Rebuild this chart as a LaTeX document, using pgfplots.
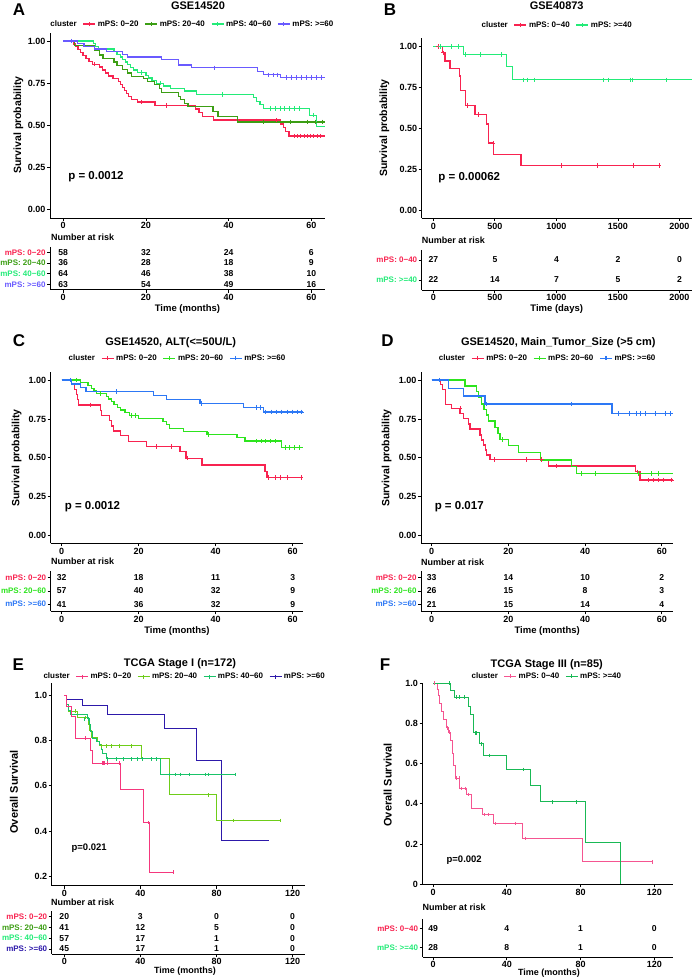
\documentclass[border=0pt]{standalone}
\usepackage{fontspec}
\setmainfont{Liberation Sans}
\usepackage{pgfplots}
\pgfplotsset{compat=1.18}

\definecolor{aR}{RGB}{248,35,80}
\definecolor{aG}{RGB}{60,158,20}
\definecolor{aC}{RGB}{35,235,120}
\definecolor{aB}{RGB}{105,90,255}
\definecolor{cG}{RGB}{45,228,30}
\definecolor{cB}{RGB}{45,120,245}
\definecolor{eP}{RGB}{245,55,125}
\definecolor{eL}{RGB}{110,205,25}
\definecolor{eT}{RGB}{25,195,105}
\definecolor{eN}{RGB}{45,25,170}
\definecolor{fP}{RGB}{245,85,145}
\definecolor{fG}{RGB}{25,185,85}

\newcommand{\fs}[1]{\bfseries\fontsize{#1}{#1}\selectfont}

\pgfplotsset{
  kmax/.style={scale only axis, clip=false,
    axis x line*=bottom, axis y line*=left,
    axis line style={-, line width=0.8pt, black},
    tick align=outside, major tick length=3pt,
    tick style={black, line width=0.8pt},
    tick label style={font=\fs{9}},
    xticklabel shift=-2pt, yticklabel shift=-2pt,
    /pgf/number format/assume math mode=true,
    legend style={draw=none, fill=none, font=\fs{8}, legend columns=-1,
      inner sep=0pt, anchor=center,
      /tikz/every even column/.append style={column sep=4pt}},
    legend image code/.code={\draw[mark repeat=2,mark phase=2,##1]
      plot coordinates {(0pt,0pt) (6pt,0pt) (12pt,0pt)};}},
  risk/.style={kmax, y dir=reverse, ymin=0.5, yticklabel style={font=\fs{8}}},
  km/.style={const plot, line width=1.3pt, forget plot},
  cen/.style={only marks, mark=+, mark size=2.2pt, line width=0.8pt, forget plot},
  nums/.style={draw=none, mark=none,
    nodes near coords, point meta=explicit symbolic, nodes near coords align={center},
    every node near coord/.append style={font=\fs{8.6}, black}, forget plot},
}

\begin{document}
\begin{tikzpicture}
\path[use as bounding box] (0,0) rectangle (693pt,980pt);

%% ---------------- A ----------------
\begin{axis}[kmax, at={(50pt,762pt)}, anchor=south west, width=275pt, height=185.4pt,
  xmin=-3.2, xmax=63.3, ymin=-0.05, ymax=1.05,
  xtick={0,20,40,60}, xticklabels={0,20,40,60},
  ytick={0,0.25,0.5,0.75,1}, yticklabels={0.00,0.25,0.50,0.75,1.00},
  legend style={at={(0.516,1.046)}}]
\addlegendimage{empty legend}\addlegendentry{cluster}
\addlegendimage{aR, mark=+, line width=1.2pt}\addlegendentry{mPS: 0−20}
\addlegendimage{aG, mark=+, line width=1.2pt}\addlegendentry{mPS: 20−40}
\addlegendimage{aC, mark=+, line width=1.2pt}\addlegendentry{mPS: 40−60}
\addlegendimage{aB, mark=+, line width=1.2pt}\addlegendentry{mPS: >=60}
\addplot[km, aR] coordinates {(0,1.0)(2.4,0.983)(3,0.966)(3.6,0.948)(4.2,0.931)(4.8,0.914)(5.5,0.897)(6.2,0.879)(7,0.862)(8.8,0.845)(9.5,0.828)(10.2,0.810)(10.9,0.793)(12,0.776)(13.3,0.759)(13.8,0.741)(14.3,0.724)(14.8,0.707)(15.3,0.690)(15.8,0.672)(16.5,0.655)(18,0.638)(22.2,0.617)(32,0.596)(32.8,0.575)(33.6,0.554)(36.3,0.531)(52.6,0.508)(53.2,0.486)(53.8,0.463)(54.6,0.436)(63.3,0.436)};
\addplot[cen, aR] coordinates {(7.6,0.862)(19,0.638)(25,0.617)(51.5,0.531)(55.8,0.436)(56.6,0.436)(57.4,0.436)(58.2,0.436)(59,0.436)(59.8,0.436)(60.6,0.436)(61.4,0.436)(62.2,0.436)};
\addplot[km, aG] coordinates {(0,1)(2.8,0.972)(7.5,0.944)(8.7,0.917)(9.6,0.897)(12.3,0.875)(13,0.853)(14.3,0.831)(15.6,0.810)(16.5,0.788)(19.4,0.778)(20.3,0.759)(22,0.740)(23.2,0.720)(23.8,0.693)(27.8,0.672)(28.4,0.652)(29.3,0.631)(30.2,0.610)(36.2,0.580)(37.4,0.551)(42.2,0.520)(63.3,0.520)};
\addplot[cen, aG] coordinates {(48.4,0.52)(55,0.52)(59,0.52)(61,0.52)(62.6,0.52)};
\addplot[km, aC] coordinates {(0,1)(7.3,0.984)(7.8,0.969)(8.5,0.953)(12.3,0.938)(13,0.922)(13.8,0.906)(14.4,0.891)(15,0.875)(15.6,0.859)(16.2,0.844)(17,0.828)(18,0.813)(20,0.797)(20.6,0.781)(21.5,0.766)(22.5,0.750)(24.2,0.734)(26,0.719)(29.4,0.703)(32.2,0.683)(46,0.663)(46.8,0.643)(47.6,0.622)(48.4,0.600)(59.6,0.560)(61.2,0.492)(63.3,0.492)};
\addplot[cen, aC] coordinates {(19,0.813)(23.5,0.750)(38.5,0.683)(50,0.600)(51.2,0.6)(52.4,0.6)(53.6,0.6)(54.8,0.6)(56,0.6)(57.2,0.6)(60.5,0.56)};
\addplot[km, aB] coordinates {(0,1)(3.5,0.984)(5,0.968)(7.5,0.952)(10.5,0.937)(14.3,0.921)(15.5,0.905)(23.8,0.889)(27.8,0.857)(31,0.841)(47,0.821)(48.4,0.800)(52.6,0.784)(63.3,0.784)};
\addplot[cen, aB] coordinates {(2,1)(36.6,0.841)(49.5,0.8)(50.8,0.8)(51.8,0.8)(54,0.784)(55.2,0.784)(56.4,0.784)(57.6,0.784)(58.8,0.784)(60,0.784)(61.2,0.784)(62.4,0.784)};
\end{axis}
\begin{axis}[risk, at={(50pt,690.3pt)}, anchor=south west, width=275pt, height=42.7pt,
  xmin=-3.2, xmax=63.3, ymax=4.5,
  xtick={0,20,40,60}, xticklabels={0,20,40,60}, ytick={1,2,3,4},
  yticklabels={{\textcolor{aR}{mPS: 0−20}},{\textcolor{aG}{mPS: 20−40}},{\textcolor{aC}{mPS: 40−60}},{\textcolor{aB}{mPS: >=60}}}]
\addplot[nums] table[meta=n] {
x y n
0 1 58
20 1 32
40 1 24
60 1 6
0 2 36
20 2 28
40 2 18
60 2 9
0 3 64
20 3 46
40 3 38
60 3 10
0 4 63
20 4 54
40 4 49
60 4 16
};
\end{axis}
\node[font=\fs{17}] at (19pt,970pt) {A};
\node[font=\fs{11}] at (198pt,974pt) {GSE14520};
\node[font=\fs{10.5}, rotate=90] at (18.3pt,855pt) {Survival probability};
\node[font=\fs{11.5}] at (96pt,803.3pt) {p = 0.0012};
\node[font=\fs{9}, anchor=west, inner sep=0pt] at (51pt,742.7pt) {Number at risk};
\node[font=\fs{9.5}] at (187.5pt,671pt) {Time (months)};

%% ---------------- B ----------------
\begin{axis}[kmax, at={(421.7pt,761.8pt)}, anchor=south west, width=270pt, height=179.7pt,
  xmin=-95, xmax=2100, ymin=-0.05, ymax=1.05,
  xtick={0,500,1000,1500,2000}, xticklabels={0,500,1000,1500,2000},
  ytick={0,0.25,0.5,0.75,1}, yticklabels={0.00,0.25,0.50,0.75,1.00},
  legend style={at={(0.5,1.075)}}]
\addlegendimage{empty legend}\addlegendentry{cluster}
\addlegendimage{aR, mark=+, line width=1.2pt}\addlegendentry{mPS: 0−40}
\addlegendimage{aC, mark=+, line width=1.2pt}\addlegendentry{mPS: >=40}
\addplot[km, aR] coordinates {(0,1)(73,0.963)(95,0.912)(136,0.866)(211,0.820)(222,0.730)(263,0.641)(339,0.585)(434,0.527)(447,0.410)(488,0.342)(713,0.273)(1843,0.273)};
\addplot[cen, aR] coordinates {(41,1)(54,1)(80,0.963)(274,0.641)(366,0.585)(485,0.41)(1043,0.273)(1333,0.273)(1626,0.273)(1835,0.273)};
\addplot[km, aC] coordinates {(0,1)(244,0.953)(596,0.877)(642,0.797)(2100,0.797)};
\addplot[cen, aC] coordinates {(54,1)(144,1)(203,1)(263,0.953)(379,0.953)(556,0.953)(732,0.797)(767,0.797)(821,0.797)(1382,0.797)(1423,0.797)(1604,0.797)(1618,0.797)(1897,0.797)};
\end{axis}
\begin{axis}[risk, at={(421.7pt,690pt)}, anchor=south west, width=270pt, height=40pt,
  xmin=-95, xmax=2100, ymax=2.5,
  xtick={0,500,1000,1500,2000}, xticklabels={0,500,1000,1500,2000}, ytick={1,2},
  yticklabels={{\textcolor{aR}{mPS: 0−40}},{\textcolor{aC}{mPS: >=40}}}]
\addplot[nums] table[meta=n] {
x y n
0 1 27
500 1 5
1000 1 4
1500 1 2
2000 1 0
0 2 22
500 2 14
1000 2 7
1500 2 5
2000 2 2
};
\end{axis}
\node[font=\fs{17}] at (390pt,970pt) {B};
\node[font=\fs{11}] at (556.7pt,974pt) {GSE40873};
\node[font=\fs{10.5}, rotate=90] at (384.3pt,852pt) {Survival probability};
\node[font=\fs{11.5}] at (469.3pt,802.3pt) {p = 0.00062};
\node[font=\fs{9}, anchor=west, inner sep=0pt] at (421.7pt,740pt) {Number at risk};
\node[font=\fs{9.5}] at (556.7pt,671pt) {Time (days)};

%% ---------------- C ----------------
\begin{axis}[kmax, at={(50.7pt,436.5pt)}, anchor=south west, width=252.6pt, height=171.3pt,
  xmin=-2.86, xmax=62.75, ymin=-0.05, ymax=1.05,
  xtick={0,20,40,60}, xticklabels={0,20,40,60},
  ytick={0,0.25,0.5,0.75,1}, yticklabels={0.00,0.25,0.50,0.75,1.00},
  legend style={at={(0.5,1.081)}}]
\addlegendimage{empty legend}\addlegendentry{cluster}
\addlegendimage{aR, mark=+, line width=1.2pt}\addlegendentry{mPS: 0−20}
\addlegendimage{cG, mark=+, line width=1.2pt}\addlegendentry{mPS: 20−60}
\addlegendimage{cB, mark=+, line width=1.2pt}\addlegendentry{mPS: >=60}
\addplot[km, aR] coordinates {(0,1)(2.6,0.969)(3.4,0.938)(3.8,0.906)(4.1,0.875)(4.3,0.840)(10,0.806)(10.3,0.771)(12.5,0.740)(12.9,0.705)(13.5,0.672)(15.2,0.642)(17.3,0.605)(22,0.573)(30.7,0.540)(32.3,0.498)(36.4,0.454)(52.8,0.413)(53.3,0.373)(62.75,0.373)};
\addplot[cen, aR] coordinates {(7.4,0.84)(24.7,0.573)(28.6,0.573)(32.6,0.498)(53.7,0.373)(55.4,0.373)(56.8,0.373)(58.5,0.373)(62.2,0.373)};
\addplot[km, cG] coordinates {(0,1)(4.8,0.982)(6.8,0.965)(7.8,0.947)(8.4,0.930)(9.1,0.912)(11.7,0.895)(12.2,0.877)(12.9,0.860)(13.6,0.842)(14.5,0.825)(15.3,0.807)(16.4,0.789)(17.6,0.772)(19.9,0.754)(26.3,0.733)(27.2,0.712)(28,0.690)(31.6,0.668)(37.7,0.650)(45.5,0.630)(47.6,0.608)(57.1,0.567)(62.75,0.567)};
\addplot[cen, cG] coordinates {(3.9,1)(10,0.912)(18.2,0.772)(19.2,0.772)(38.1,0.650)(50.6,0.608)(51.8,0.608)(53,0.608)(54.2,0.608)(55.4,0.608)(58,0.567)(59.2,0.567)(60.4,0.567)(61.8,0.567)};
\addplot[km, cB] coordinates {(0,1)(2.6,0.975)(4.8,0.951)(6.3,0.926)(23.8,0.899)(27.3,0.873)(35.9,0.848)(47.2,0.823)(52.4,0.795)(62.75,0.795)};
\addplot[cen, cB] coordinates {(2.2,1)(14.3,0.926)(36.4,0.848)(50.6,0.823)(51.7,0.823)(53,0.795)(54.5,0.795)(55.8,0.795)(57,0.795)(58.5,0.795)(60,0.795)(61.2,0.795)(62.3,0.795)};
\end{axis}
\begin{axis}[risk, at={(50.7pt,368.5pt)}, anchor=south west, width=252.6pt, height=40.5pt,
  xmin=-2.86, xmax=62.75, ymax=3.55,
  xtick={0,20,40,60}, xticklabels={0,20,40,60}, ytick={1,2,3},
  yticklabels={{\textcolor{aR}{mPS: 0−20}},{\textcolor{cG}{mPS: 20−60}},{\textcolor{cB}{mPS: >=60}}}]
\addplot[nums] table[meta=n] {
x y n
0 1 32
20 1 18
40 1 11
60 1 3
0 2 57
20 2 40
40 2 32
60 2 9
0 3 41
20 3 36
40 3 32
60 3 9
};
\end{axis}
\node[font=\fs{17}] at (19pt,639pt) {C};
\node[font=\fs{11}] at (170.7pt,637.7pt) {GSE14520, ALT(<=50U/L)};
\node[font=\fs{10.5}, rotate=90] at (16.7pt,522pt) {Survival probability};
\node[font=\fs{11.5}] at (92.5pt,473.3pt) {p = 0.0012};
\node[font=\fs{9}, anchor=west, inner sep=0pt] at (51pt,418.3pt) {Number at risk};
\node[font=\fs{9.5}] at (177pt,349pt) {Time (months)};

%% ---------------- D ----------------
\begin{axis}[kmax, at={(421pt,436.5pt)}, anchor=south west, width=252.3pt, height=171.3pt,
  xmin=-2.8, xmax=63, ymin=-0.05, ymax=1.05,
  xtick={0,20,40,60}, xticklabels={0,20,40,60},
  ytick={0,0.25,0.5,0.75,1}, yticklabels={0.00,0.25,0.50,0.75,1.00},
  legend style={at={(0.5,1.081)}}]
\addlegendimage{empty legend}\addlegendentry{cluster}
\addlegendimage{aR, mark=+, line width=1.2pt}\addlegendentry{mPS: 0−20}
\addlegendimage{cG, mark=+, line width=1.2pt}\addlegendentry{mPS: 20−60}
\addlegendimage{cB, mark=+, line width=1.2pt}\addlegendentry{mPS: >=60}
\addplot[km, aR] coordinates {(0,1)(2.2,0.970)(2.8,0.940)(3.5,0.844)(5.2,0.818)(7.4,0.786)(8.3,0.754)(9.6,0.717)(10,0.685)(12.6,0.647)(13,0.615)(13.5,0.582)(14,0.550)(14.3,0.518)(15.2,0.490)(30.4,0.448)(53.2,0.411)(54.3,0.358)(63,0.358)};
\addplot[cen, aR] coordinates {(7.4,0.818)(16.3,0.49)(24.8,0.49)(28.7,0.49)(32.6,0.448)(53.6,0.411)(56.5,0.358)(57.8,0.358)(59,0.358)(60.5,0.358)(62.5,0.358)};
\addplot[km, cG] coordinates {(0,1)(8.7,0.961)(11.7,0.925)(12.2,0.886)(13,0.846)(13.6,0.812)(14.3,0.775)(14.8,0.737)(16.5,0.694)(17.3,0.657)(17.8,0.619)(20,0.578)(22.6,0.535)(28.3,0.486)(36.5,0.443)(37.8,0.40)(63,0.40)};
\addplot[cen, cG] coordinates {(18.5,0.619)(39,0.40)(42.6,0.40)(53.9,0.40)(57.4,0.40)(59.1,0.40)};
\addplot[km, cB] coordinates {(0,1)(4.3,0.946)(8.3,0.897)(13.9,0.846)(47,0.786)(63,0.786)};
\addplot[cen, cB] coordinates {(2,1)(14.3,0.846)(36.5,0.846)(48.7,0.786)(51.5,0.786)(53.3,0.786)(54.4,0.786)(55.6,0.786)(58.2,0.786)(60.9,0.786)(62.2,0.786)};
\end{axis}
\begin{axis}[risk, at={(421pt,368.5pt)}, anchor=south west, width=252.3pt, height=40.5pt,
  xmin=-2.8, xmax=63, ymax=3.55,
  xtick={0,20,40,60}, xticklabels={0,20,40,60}, ytick={1,2,3},
  yticklabels={{\textcolor{aR}{mPS: 0−20}},{\textcolor{cG}{mPS: 20−60}},{\textcolor{cB}{mPS: >=60}}}]
\addplot[nums] table[meta=n] {
x y n
0 1 33
20 1 14
40 1 10
60 1 2
0 2 26
20 2 15
40 2 8
60 2 3
0 3 21
20 3 15
40 3 14
60 3 4
};
\end{axis}
\node[font=\fs{17}] at (387.5pt,639pt) {D};
\node[font=\fs{11}] at (558.3pt,637.7pt) {GSE14520, Main\_Tumor\_Size (>5 cm)};
\node[font=\fs{10.5}, rotate=90] at (386.7pt,522pt) {Survival probability};
\node[font=\fs{11.5}] at (459.2pt,473.3pt) {p = 0.017};
\node[font=\fs{9}, anchor=west, inner sep=0pt] at (421pt,417.7pt) {Number at risk};
\node[font=\fs{9.5}] at (547.2pt,349pt) {Time (months)};

%% ---------------- E ----------------
\begin{axis}[kmax, at={(51.7pt,94.3pt)}, anchor=south west, width=253.3pt, height=202.7pt,
  xmin=-6.6, xmax=126.5, ymin=0.1585, ymax=1.053,
  xtick={0,40,80,120}, xticklabels={0,40,80,120},
  ytick={0.2,0.4,0.6,0.8,1}, yticklabels={0.2,0.4,0.6,0.8,1.0},
  legend style={at={(0.523,1.031)}}]
\addlegendimage{empty legend}\addlegendentry{cluster}
\addlegendimage{eP, mark=+, line width=0.8pt}\addlegendentry{mPS: 0−20}
\addlegendimage{eL, mark=+, line width=0.8pt}\addlegendentry{mPS: 20−40}
\addlegendimage{eT, mark=+, line width=0.8pt}\addlegendentry{mPS: 40−60}
\addlegendimage{eN, mark=+, line width=0.8pt}\addlegendentry{mPS: >=60}
\addplot[km, eN, line width=0.9pt] coordinates {(0,1)(1.2,0.981)(9.4,0.956)(22.6,0.915)(52.9,0.853)(69.6,0.712)(82.6,0.356)(107.7,0.356)};
\addplot[km, eL, line width=0.9pt] coordinates {(0,1)(1.2,0.96)(2.1,0.929)(6.8,0.901)(12.5,0.872)(13.4,0.843)(14.3,0.813)(17.7,0.794)(18.6,0.776)(40.7,0.721)(55.1,0.559)(79.8,0.446)(113.4,0.446)};
\addplot[cen, eL, mark=|, mark size=1.8pt] coordinates {(6.1,0.929)(11.3,0.901)(19.5,0.776)(22,0.776)(25,0.776)(29,0.776)(35.5,0.776)(75.5,0.559)(89,0.446)(113.4,0.446)};
\addplot[km, eT, line width=0.9pt] coordinates {(0,1)(0.9,0.96)(2.1,0.93)(3.3,0.912)(12,0.895)(13,0.87)(13.7,0.84)(14.6,0.81)(16.9,0.795)(18.6,0.78)(19.5,0.76)(20,0.743)(22,0.718)(50.8,0.65)(89.9,0.65)};
\addplot[cen, eT, mark=|, mark size=1.8pt] coordinates {(10.5,0.895)(12.6,0.895)(22.9,0.718)(27.3,0.718)(31.3,0.718)(35.5,0.718)(38.3,0.718)(41.2,0.718)(45.6,0.718)(48.2,0.718)(55.1,0.65)(58.6,0.65)(61.2,0.65)(65.9,0.65)(74.3,0.65)(75.7,0.65)(89.9,0.65)};
\addplot[km, eP, line width=0.9pt] coordinates {(0,1)(1.2,0.951)(3.8,0.904)(6.1,0.809)(13.7,0.754)(14.6,0.699)(29.4,0.584)(41.6,0.437)(44.7,0.218)(57.3,0.218)};
\addplot[cen, eP, mark=|, mark size=1.8pt] coordinates {(11.3,0.809)(20,0.699)(20.6,0.699)(21.3,0.699)(22.6,0.699)(29,0.699)(44.2,0.437)(57.3,0.218)};
\end{axis}
\begin{axis}[risk, at={(51.7pt,25.7pt)}, anchor=south west, width=253.3pt, height=43pt,
  xmin=-6.6, xmax=126.5, ymax=4.5, xticklabel shift=-3pt,
  xtick={0,40,80,120}, xticklabels={0,40,80,120}, ytick={1,2,3,4},
  yticklabels={{\textcolor{aR}{mPS: 0−20}},{\textcolor{aG}{mPS: 20−40}},{\textcolor{aC}{mPS: 40−60}},{\textcolor{eN}{mPS: >=60}}}]
\addplot[nums] table[meta=n] {
x y n
0 1 20
40 1 3
80 1 0
120 1 0
0 2 41
40 2 12
80 2 5
120 2 0
0 3 57
40 3 17
80 3 1
120 3 0
0 4 45
40 4 17
80 4 1
120 4 0
};
\end{axis}
\node[font=\fs{17}] at (18.3pt,315pt) {E};
\node[font=\fs{11}] at (180pt,316pt) {TCGA Stage I (n=172)};
\node[font=\fs{11}, rotate=90] at (14pt,188pt) {Overall Survival};
\node[font=\fs{9.5}] at (89.2pt,132.3pt) {p=0.021};
\node[font=\fs{9}, anchor=west, inner sep=0pt] at (51pt,77.3pt) {Number at risk};
\node[font=\fs{9}] at (185pt,8.5pt) {Time (months)};

%% ---------------- F ----------------
\begin{axis}[kmax, at={(422.5pt,95.7pt)}, anchor=south west, width=250.8pt, height=201.6pt,
  xmin=-5.75, xmax=130.3, ymin=0, ymax=1.003,
  xtick={0,40,80,120}, xticklabels={0,40,80,120},
  ytick={0,0.2,0.4,0.6,0.8,1}, yticklabels={0,0.2,0.4,0.6,0.8,1.0},
  legend style={at={(0.494,1.033)}}]
\addlegendimage{empty legend}\addlegendentry{cluster}
\addlegendimage{fP, mark=+, line width=0.8pt}\addlegendentry{mPS: 0−40}
\addlegendimage{fG, mark=+, line width=0.8pt}\addlegendentry{mPS: >=40}
\addplot[km, fP, line width=0.9pt] coordinates {(0,1)(2.4,0.97)(3,0.939)(3.6,0.90)(4.5,0.861)(5.4,0.82)(7.3,0.779)(8.5,0.757)(9.6,0.716)(10.3,0.65)(11,0.592)(12.2,0.529)(14.5,0.476)(18.1,0.446)(20.9,0.377)(26.7,0.347)(32.7,0.302)(48.6,0.228)(80.8,0.112)(118.9,0.112)};
\addplot[cen, fP, mark=|, mark size=1.8pt] coordinates {(0.9,1)(7.6,0.779)(9,0.757)(12.9,0.529)(14.2,0.529)(15.4,0.476)(17.6,0.476)(19,0.446)(28,0.347)(30,0.347)(33.6,0.302)(44.5,0.302)(50.3,0.228)(118.9,0.112)};
\addplot[km, fG, line width=0.9pt] coordinates {(0,1)(9.6,0.964)(11.8,0.931)(19.1,0.886)(20.5,0.843)(21.8,0.754)(25.4,0.699)(27.2,0.641)(39.9,0.571)(53,0.493)(58.4,0.41)(82.6,0.208)(101.6,0)};
\addplot[cen, fG, mark=|, mark size=1.8pt] coordinates {(9,1)(12.9,0.931)(14.2,0.931)(17.2,0.931)(22.7,0.754)(23.6,0.754)(26.3,0.699)(30.3,0.641)(49,0.571)(64.8,0.41)(78,0.41)};
\end{axis}
\begin{axis}[risk, at={(422.5pt,22.5pt)}, anchor=south west, width=250.8pt, height=38.6pt,
  xmin=-5.75, xmax=130.3, ymax=2.5, xticklabel shift=-3pt,
  xtick={0,40,80,120}, xticklabels={0,40,80,120}, ytick={1,2},
  yticklabels={{\textcolor{aR}{mPS: 0−40}},{\textcolor{aC}{mPS: >=40}}}]
\addplot[nums] table[meta=n] {
x y n
0 1 49
40 1 4
80 1 1
120 1 0
0 2 28
40 2 8
80 2 1
120 2 0
};
\end{axis}
\node[font=\fs{17}] at (385pt,315pt) {F};
\node[font=\fs{11}] at (546.7pt,315pt) {TCGA Stage III (n=85)};
\node[font=\fs{11}, rotate=90] at (387.7pt,195pt) {Overall Survival};
\node[font=\fs{9.5}] at (464.2pt,120pt) {p=0.002};
\node[font=\fs{9}, anchor=west, inner sep=0pt] at (422.3pt,72.7pt) {Number at risk};
\node[font=\fs{9}] at (549pt,7pt) {Time (months)};
\end{tikzpicture}
\end{document}
